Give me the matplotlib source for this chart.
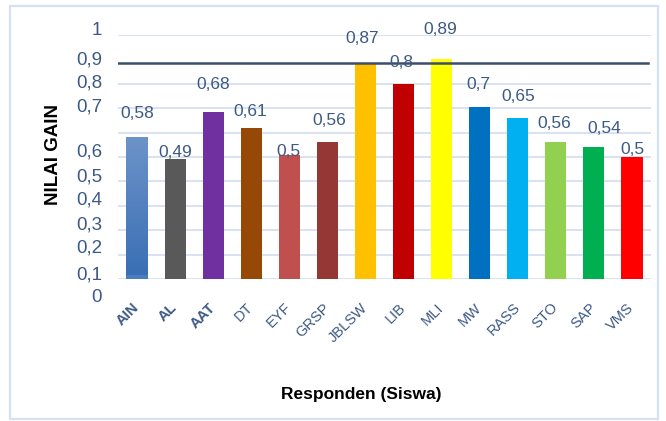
import numpy as np
import matplotlib
matplotlib.use("Agg")
import matplotlib.pyplot as plt
from matplotlib.patches import Rectangle
from matplotlib.colors import LinearSegmentedColormap
import matplotlib.transforms as mtrans

plt.rcParams['font.family'] = ['Liberation Sans', 'DejaVu Sans']

# data
siswa = ['AIN', 'AL', 'AAT', 'DT', 'EYF', 'GRSP', 'JBLSW', 'LIB', 'MLI',
         'MW', 'RASS', 'STO', 'SAP', 'VMS']
gain = [0.58, 0.49, 0.68, 0.61, 0.50, 0.56, 0.87, 0.80, 0.89,
        0.70, 0.65, 0.56, 0.54, 0.50]
# bar heights as drawn in the picture
bar_h = [0.58, 0.49, 0.686, 0.62, 0.51, 0.56, 0.885, 0.80, 0.90,
         0.705, 0.66, 0.56, 0.54, 0.50]
garis_batas = 0.886
grid_vals = [0, 0.1, 0.2, 0.3, 0.4, 0.5, 0.6, 0.7, 0.8, 1.0]
ytick_txt = ['1', '0,9', '0,8', '0,7', '0,6', '0,5', '0,4', '0,3', '0,2', '0,1', '0']
ytick_at = [1.02, 0.898, 0.803, 0.705, 0.52, 0.418, 0.324, 0.221, 0.127, 0.016, -0.074]

warna = ['#4a7dbf', '#595959', '#7030a0', '#974706', '#c0504d', '#953735',
         '#ffc000', '#c00000', '#ffff00', '#0070c0', '#00b0f0', '#92d050',
         '#00b050', '#ff0000']
# label offsets above bar top (pixels)
lbl_dy = [24, 7, 27, 16, 3, 22, 25, 21, 30, 22, 21, 19, 19, 7]
lbl_dx = [0, 0, 0, -1, -1, 2, -3, -2, -1, -1, 1, -2, 10, 0]

teks = '#3d5a85'

fig = plt.figure(figsize=(6.66, 4.21), dpi=100)
ax = fig.add_axes([118/666, 142/421, 533/666, 244/421])

x = np.arange(len(siswa))
bars = ax.bar(x, bar_h, width=0.555, color=warna, zorder=3)

# gradient on first bar
b0 = bars[0]
grad = np.linspace(0, 1, 100).reshape(-1, 1)
cm = LinearSegmentedColormap.from_list('g', ['#3a6fb5', '#6d93c8'])
im = ax.imshow(grad, cmap=cm, aspect='auto', origin='lower',
               extent=[b0.get_x(), b0.get_x() + b0.get_width(), 0.015, b0.get_height()],
               zorder=4)
im.set_clip_path(b0)

for g in grid_vals:
    ax.axhline(g, color='#d5dff0', lw=1.3, zorder=1)
ax.axhline(garis_batas, xmin=-0.004, xmax=0.995, color='#3b4f6c', lw=1.8, zorder=5)

for i, v in enumerate(gain):
    ax.annotate(str(v).replace('.', ','), (x[i], bar_h[i]),
                xytext=(lbl_dx[i], lbl_dy[i]), textcoords='offset pixels',
                ha='center', va='center', fontsize=12.5, color=teks,
                annotation_clip=False, zorder=6)

for s in ax.spines.values():
    s.set_visible(False)

# y labels sit off the gridlines in the original, so they are placed as text
ax.set_yticks([])
tr = mtrans.blended_transform_factory(ax.transAxes, ax.transData)
for pos, t in zip(ytick_at, ytick_txt):
    ax.text(-0.03, pos, t, transform=tr, ha='right', va='center',
            fontsize=13.5, color=teks, clip_on=False)

ax.set_xticks(x)
ax.set_xticklabels(siswa, rotation=45, ha='right', va='center',
                   rotation_mode='anchor', fontsize=10.5, color=teks)
for t in ax.get_xticklabels()[:3]:
    t.set_fontweight('bold')
ax.tick_params(axis='x', length=0, pad=19)

ax.set_xlim(-0.5, len(siswa) - 0.5)
ax.set_ylim(0, 1)

ax.set_ylabel('NILAI GAIN', fontsize=13.5, fontweight='bold', color='black')
ax.yaxis.set_label_coords(-0.105, 0.512)
ax.set_xlabel('Responden (Siswa)', fontsize=12.5, fontweight='bold', color='black')
ax.xaxis.set_label_coords(0.456, -0.443)

fig.patches.append(Rectangle((10/666, 2/421), 648/666, 413/421, transform=fig.transFigure,
                             fill=False, edgecolor='#d6e2f3', lw=1.6))

fig.savefig('out.png', dpi=100)
